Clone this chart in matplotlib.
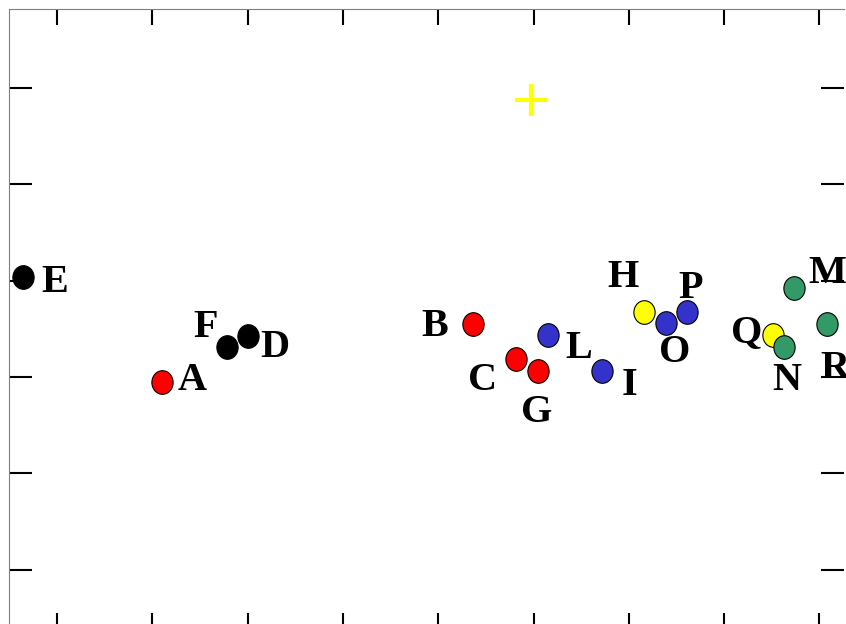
import matplotlib
matplotlib.use("Agg")
import matplotlib.pyplot as plt
import numpy as np
from matplotlib.path import Path
from matplotlib.transforms import Affine2D

# Sample scores (x, y) grouped by colour
labels = ["A", "B", "C", "D", "E", "F", "G", "H", "I", "L", "M", "N", "O", "P", "Q", "R"]
x_vals = [1.105, 4.368, 4.816, 2.007, -0.354, 1.787, 5.044, 6.163, 5.719, 5.155, 7.737, 7.629, 6.390, 6.614, 7.510, 8.077]
y_vals = [1.952, 2.555, 2.188, 2.430, 3.043, 2.309, 2.066, 2.679, 2.066, 2.434, 2.922, 2.316, 2.559, 2.679, 2.437, 2.551]
groups = ["red", "red", "red", "black", "black", "black", "red", "yellow", "blue", "blue", "green", "green", "blue", "blue", "yellow", "green"]

# Reference point
ref_x, ref_y = 4.974, 4.881

group_order = ["red", "black", "blue", "yellow", "green"]
group_colors = {"red": "#ff0000", "black": "#000000", "blue": "#3333cc",
                "yellow": "#ffff00", "green": "#339966"}

# label offsets in pixels (dx right, dy up) relative to each point
label_offsets = {
    "A": (30, -8), "B": (-39, -12), "C": (-33, -31), "D": (27, -21),
    "E": (31, -15), "F": (-22, 10), "G": (-1, -51), "H": (-21, 25),
    "I": (27, -24), "L": (30, -23), "M": (33, 5), "N": (3, -43),
    "O": (9, -39), "P": (3, 14), "Q": (-26, -7), "R": (8, -54),
}

W, H = 846, 624
fig = plt.figure(figsize=(W / 100, H / 100), dpi=100)
# axes box runs past the right and bottom edge of the canvas
left_px, right_px, top_px, bottom_px = 9, 844, 9, 629
ax = fig.add_axes([left_px / W, (H - bottom_px) / H,
                   (right_px - left_px) / W, (bottom_px - top_px) / H])

ax.set_xlim(-0.504, 8.258)
ax.set_ylim(-0.616, 5.822)

# slightly tall ellipse marker
ellipse = Path.unit_circle().transformed(Affine2D().scale(0.9, 1.0))

xs = np.array(x_vals)
ys = np.array(y_vals)
gs = np.array(groups)
for g in group_order:
    m = gs == g
    ax.plot(xs[m], ys[m], linestyle="none", marker=ellipse, markersize=17,
            markerfacecolor=group_colors[g], markeredgecolor="black",
            markeredgewidth=0.8, zorder=3)

ax.plot([ref_x], [ref_y], linestyle="none", marker="+", markersize=23,
        markeredgewidth=3, color="#ffff00", zorder=3)

for lab, x, y in zip(labels, x_vals, y_vals):
    dx, dy = label_offsets[lab]
    ax.annotate(lab, (x, y), xytext=(dx, dy), textcoords="offset pixels",
                ha="center", va="baseline", fontsize=29, fontweight="bold",
                family="Liberation Serif", color="black", zorder=4,
                annotation_clip=False)

ax.set_xticks(np.arange(0, 9))
ax.set_yticks(np.arange(0, 6))
ax.tick_params(axis="x", which="both", direction="in", top=True, bottom=True,
               length=11.5, width=1.5, color="black",
               labelbottom=False, labeltop=False)
ax.tick_params(axis="y", which="both", direction="in", left=True, right=True,
               length=16.5, width=1.5, color="black",
               labelleft=False, labelright=False)

for side in ["left", "top"]:
    ax.spines[side].set_color("#7f7f7f")
    ax.spines[side].set_linewidth(0.8)
ax.spines["right"].set_visible(False)
ax.spines["bottom"].set_visible(False)

fig.savefig("out.png", dpi=100)
